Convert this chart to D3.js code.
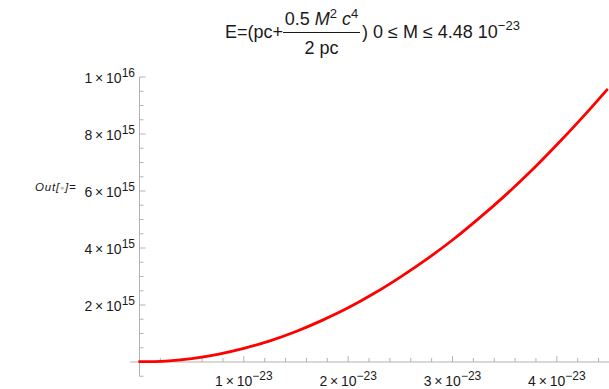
<!DOCTYPE html>
<html>
<head>
<meta charset="utf-8">
<script src="https://cdn.jsdelivr.net/npm/d3@7"></script>
<style>
  body { margin: 0; background: #fff; }
  svg { display: block; font-family: "Liberation Sans", Arial, sans-serif; }
</style>
</head>
<body>
<div id="app"></div>
<script>
// M in units of 1e-23, E in units of 1e15
const massValues = [0, 0.25, 0.5, 0.75, 1, 1.25, 1.5, 1.75, 2, 2.25, 2.5, 2.75, 3, 3.25, 3.5, 3.75, 4, 4.25, 4.48];
const energyValues = [0.01, 0.03, 0.12, 0.27, 0.48, 0.74, 1.07, 1.46, 1.9, 2.41, 2.98, 3.6, 4.28, 5.03, 5.83, 6.69, 7.62, 8.6, 9.55];

const xTickValues = [1, 2, 3, 4];
const xTickExp = "\u221223";
const yTickValues = [2, 4, 6, 8, 10];
const yTickLabels = [["2", "15"], ["4", "15"], ["6", "15"], ["8", "15"], ["1", "16"]];

const width = 609, height = 389;

const svg = d3.select("#app").append("svg")
  .attr("width", width)
  .attr("height", height);

const x = d3.scaleLinear().domain([0, 4.5]).range([139.5, 609]);
const y = d3.scaleLinear().domain([0, 10]).range([362, 77]);

const axisColor = "#b3b3b3";
const labelColor = "#1a1a1a";
const times = "\u2009\u00d7\u2009";

// x axis (ticks pointing inward / up)
const xAxis = svg.append("g").attr("transform", `translate(0,${y(0)})`);
xAxis.append("line")
  .attr("x1", x(-0.09)).attr("x2", width)
  .attr("stroke", axisColor);
xAxis.selectAll(".minor")
  .data(d3.range(0.2, 4.5, 0.2).filter(v => Math.abs(v - Math.round(v)) > 0.01))
  .enter().append("line")
  .attr("x1", d => x(d)).attr("x2", d => x(d))
  .attr("y1", 0).attr("y2", -4)
  .attr("stroke", axisColor);
xAxis.selectAll(".major")
  .data(xTickValues)
  .enter().append("line")
  .attr("x1", d => x(d)).attr("x2", d => x(d))
  .attr("y1", 0).attr("y2", -6)
  .attr("stroke", axisColor);
const xLabels = xAxis.selectAll(".xlabel")
  .data(xTickValues)
  .enter().append("text")
  .attr("x", d => x(d))
  .attr("y", 24)
  .attr("text-anchor", "middle")
  .attr("font-size", 14)
  .attr("fill", labelColor);
xLabels.append("tspan").text(d => `${d}${times}10`);
xLabels.append("tspan").attr("dy", -6).attr("font-size", 12).text(xTickExp);

// y axis (ticks pointing inward / right)
const yAxis = svg.append("g").attr("transform", `translate(${x(0)},0)`);
yAxis.append("line")
  .attr("y1", y(-0.5)).attr("y2", y(10))
  .attr("stroke", axisColor);
yAxis.selectAll(".minor")
  .data(d3.range(-0.5, 10, 0.5).filter(v => Math.abs(v / 2 - Math.round(v / 2)) > 0.01))
  .enter().append("line")
  .attr("x1", 0).attr("x2", 4)
  .attr("y1", d => y(d)).attr("y2", d => y(d))
  .attr("stroke", axisColor);
yAxis.selectAll(".major")
  .data(yTickValues)
  .enter().append("line")
  .attr("x1", 0).attr("x2", 6)
  .attr("y1", d => y(d)).attr("y2", d => y(d))
  .attr("stroke", axisColor);
const yLabels = yAxis.selectAll(".ylabel")
  .data(yTickValues)
  .enter().append("text")
  .attr("x", -4.5)
  .attr("y", d => y(d) + 6)
  .attr("text-anchor", "end")
  .attr("font-size", 14)
  .attr("fill", labelColor);
yLabels.append("tspan").text((d, i) => `${yTickLabels[i][0]}${times}10`);
yLabels.append("tspan").attr("dy", -6).attr("font-size", 12).text((d, i) => yTickLabels[i][1]);

// curve
const line = d3.line()
  .x((d, i) => x(massValues[i]))
  .y(d => y(d))
  .curve(d3.curveCatmullRom);

svg.append("path")
  .datum(energyValues)
  .attr("d", line)
  .attr("fill", "none")
  .attr("stroke", "#f00")
  .attr("stroke-width", 2.8)
  .attr("stroke-linecap", "round");

// Out[ ]= label
const outLabel = svg.append("text")
  .attr("x", 35).attr("y", 191)
  .attr("font-size", 11.5)
  .attr("font-style", "italic")
  .attr("letter-spacing", 0.8)
  .attr("fill", labelColor);
outLabel.append("tspan").text("Out[");
outLabel.append("tspan").attr("fill", "#bbb").attr("font-style", "normal").attr("font-size", 7).attr("dy", -1).text("\u25cf");
outLabel.append("tspan").attr("dy", 1).text("]=");

// title
const title = svg.append("g").attr("fill", labelColor).attr("font-size", 18);
title.append("text").attr("x", 225).attr("y", 38).text("E=(pc+");
title.append("line")
  .attr("x1", 283).attr("x2", 360)
  .attr("y1", 32.5).attr("y2", 32.5)
  .attr("stroke", labelColor).attr("stroke-width", 1);
const num = title.append("text").attr("x", 321.5).attr("y", 25).attr("text-anchor", "middle");
num.append("tspan").text("0.5 ");
num.append("tspan").attr("font-style", "italic").text("M");
num.append("tspan").attr("dy", -7).attr("font-size", 13).text("2");
num.append("tspan").attr("dy", 7).text(" ");
num.append("tspan").attr("font-style", "italic").text("c");
num.append("tspan").attr("dy", -7).attr("font-size", 13).text("4");
title.append("text").attr("x", 321.5).attr("y", 54).attr("text-anchor", "middle").text("2 pc");
const tail = title.append("text").attr("x", 362).attr("y", 38);
tail.append("tspan").text(") 0 \u2264 M \u2264 4.48 10");
tail.append("tspan").attr("dy", -8).attr("font-size", 13).text("\u221223");
</script>
</body>
</html>
